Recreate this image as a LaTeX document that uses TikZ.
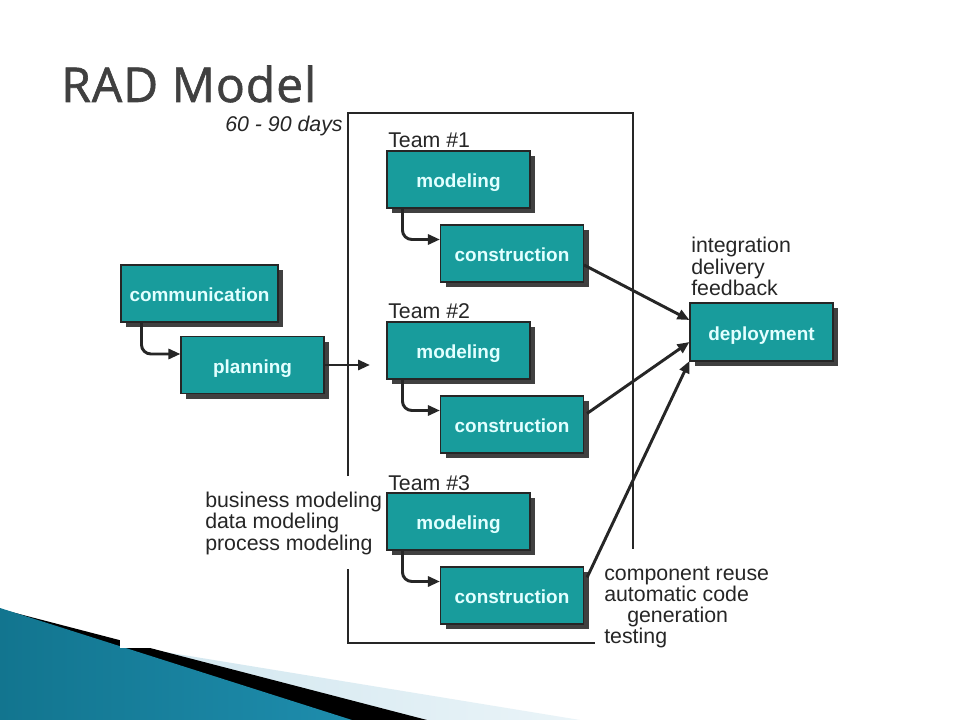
\documentclass[tikz,border=0pt]{standalone}
\usepackage{fontspec}
\setmainfont{Liberation Sans}
\newfontfamily\titlefont[FakeBold=1.3,LetterSpace=2]{Open Sans}
\usetikzlibrary{arrows.meta,calc,shadows}
\definecolor{tealbox}{HTML}{189C9C}
\definecolor{boxtext}{HTML}{E2FFFF}
\definecolor{titlegray}{HTML}{404040}
\definecolor{bluedark}{HTML}{12758F}
\definecolor{bluelight}{HTML}{52B6DA}
\definecolor{blueright}{HTML}{1E8DAD}
\definecolor{stripeA}{HTML}{C9E2EC}
\definecolor{stripeB}{HTML}{EAF4F8}
\tikzset{
  x=0.75pt, y=-0.75pt,
  box/.style={draw=black!85, line width=0.8pt, fill=tealbox, text=boxtext,
    font=\bfseries\fontsize{14.2}{16}\selectfont, inner sep=0pt,
    text height=12.5pt, text depth=0pt,
    minimum width=107.25pt, minimum height=42.75pt,
    drop shadow={shadow xshift=3.75pt, shadow yshift=-3.75pt, fill=black!75, opacity=1}},
  lbl/.style={anchor=base west, inner sep=0pt, text=black!85,
    font=\fontsize{16}{19}\selectfont},
  arr/.style={-{Triangle[length=9pt,width=7.5pt]}, line width=2.2pt, draw=black!85},
  frame/.style={line width=1.1pt, draw=black!85}
}
\begin{document}
\begin{tikzpicture}
\useasboundingbox (0,0) rectangle (960,720);
\fill[white] (0,0) rectangle (960,720);
% bottom-left decoration
\shade[left color=stripeA, right color=stripeB] (0,625) -- (580,720) -- (0,720) -- cycle;
\fill[black] (0,609) -- (427,720) -- (0,720) -- cycle;
\shade[left color=bluedark, middle color=bluelight, right color=blueright] (0,608) -- (352,720) -- (0,720) -- cycle;
\fill[white] (120,0) rectangle (960,648);
% title
\node[anchor=base west, inner sep=0pt, text=titlegray, font=\titlefont\fontsize{36}{44}\selectfont] (title) at (61,102) {RAD Model};
% frame
\draw[frame] (348,476) -- (348,113) -- (633,113) -- (633,549);
\draw[frame] (348,569) -- (348,643) -- (595,643);
% boxes
\node[box, minimum width=117.75pt] (comm) at (199.5,293.5) {communication};
\node[box] (plan) at (252.5,365) {planning};
\node[box] (mod1) at (458.5,179.5) {modeling};
\node[box] (con1) at (512,253.5) {construction};
\node[box] (mod2) at (458.5,350.5) {modeling};
\node[box] (con2) at (512,424.5) {construction};
\node[box] (mod3) at (458.5,521.5) {modeling};
\node[box] (con3) at (512,595.5) {construction};
\node[box, minimum height=43.5pt] (dep) at (761.5,332) {deployment};
% labels
\node[lbl, font=\itshape\fontsize{16}{19}\selectfont] (days) at (225,132) {60 - 90 days};
\node[lbl] (t1) at (388,148) {Team \#1};
\node[lbl] (t2) at (388,319) {Team \#2};
\node[lbl] (t3) at (388,490) {Team \#3};
\node[lbl] (i1) at (691,253) {integration};
\node[lbl] (i2) at (691,274.5) {delivery};
\node[lbl] (i3) at (691,296) {feedback};
\node[lbl] (b1) at (205,507) {business modeling};
\node[lbl] (b2) at (205,528.5) {data modeling};
\node[lbl] (b3) at (205,550) {process modeling};
\node[lbl] (c1) at (604,580) {component reuse};
\node[lbl] (c2) at (604,601) {automatic code};
\node[lbl] (c3) at (627,622) {generation};
\node[lbl] (c4) at (604,643) {testing};
% connectors
\coordinate (pin) at (370,365);
\draw[arr, rounded corners=7pt] ($(comm.south west)+(21,0)$) |- ($(plan.west)+(0,-11)$);
\draw[arr] (plan.east) -- (pin);
\draw[arr, rounded corners=7pt] ($(mod1.south west)+(16,0)$) |- ($(con1.west)+(0,-14)$);
\draw[arr, rounded corners=7pt] ($(mod2.south west)+(16,0)$) |- ($(con2.west)+(0,-14)$);
\draw[arr, rounded corners=7pt] ($(mod3.south west)+(16,0)$) |- ($(con3.west)+(0,-14)$);
\draw[arr] ($(con1.east)+(0,11.5)$) -- ($(dep.west)+(0,-12)$);
\draw[arr] ($(con2.east)+(3,-11)$) -- ($(dep.west)+(0,10)$);
\draw[arr] ($(con3.east)+(3,-18)$) -- ($(dep.west)+(0,29)$);
\end{tikzpicture}
\end{document}
